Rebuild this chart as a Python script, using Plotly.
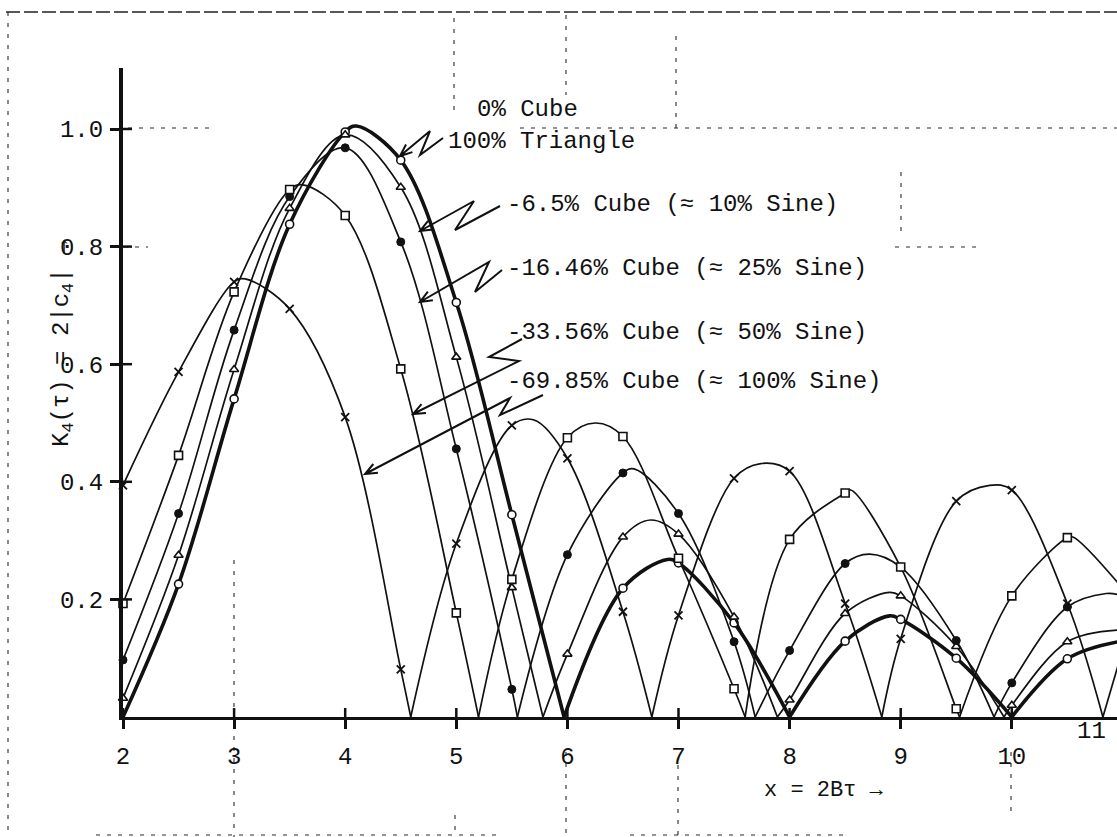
import math
import plotly.graph_objects as go

INK = "#111111"
FONT = "Liberation Mono"

# x = 2B*tau and k4 = 2|c4| for each waveform mix; a 0 value marks a null (cusp)
cube0_x = [2.0, 2.5, 3.0, 3.5, 4.0, 4.1, 4.5, 5.0, 5.5, 5.97, 6.5, 6.9, 7.0, 7.5, 8.0,
           8.5, 8.9, 9.0, 9.5, 10.0, 10.5, 10.96]
cube0_y = [0.0, 0.226, 0.541, 0.838, 0.995, 1.005, 0.947, 0.705, 0.344, 0.0, 0.219, 0.268,
           0.262, 0.16, 0.0, 0.129, 0.172, 0.166, 0.10, 0.0, 0.099, 0.128]

cube65_x = [2.0, 2.5, 3.0, 3.5, 4.0, 4.5, 5.0, 5.5, 5.78, 6.0, 6.5, 6.75, 7.0, 7.5, 7.89,
            8.0, 8.5, 8.9, 9.0, 9.5, 9.93, 10.0, 10.5, 10.96]
cube65_y = [0.032, 0.275, 0.591, 0.865, 0.99, 0.901, 0.612, 0.22, 0.0, 0.107, 0.306, 0.335,
            0.311, 0.17, 0.0, 0.029, 0.176, 0.212, 0.206, 0.12, 0.0, 0.02, 0.128, 0.148]

cube1646_x = [2.0, 2.5, 3.0, 3.5, 4.0, 4.5, 5.0, 5.5, 5.55, 6.0, 6.5, 6.6, 7.0, 7.5, 7.69,
              8.0, 8.5, 8.72, 9.0, 9.5, 9.84, 10.0, 10.5, 10.85, 10.96]
cube1646_y = [0.097, 0.346, 0.658, 0.885, 0.968, 0.808, 0.456, 0.047, 0.0, 0.276, 0.415,
              0.422, 0.346, 0.128, 0.0, 0.113, 0.261, 0.277, 0.255, 0.13, 0.0, 0.058, 0.187,
              0.21, 0.208]

cube3356_x = [2.0, 2.5, 3.0, 3.5, 3.62, 4.0, 4.5, 5.0, 5.2, 5.5, 6.0, 6.25, 6.5, 7.0, 7.5,
              7.6, 8.0, 8.5, 8.55, 9.0, 9.5, 9.53, 10.0, 10.5, 10.55, 10.96]
cube3356_y = [0.193, 0.445, 0.723, 0.897, 0.905, 0.853, 0.592, 0.177, 0.0, 0.234, 0.475,
              0.50, 0.477, 0.27, 0.048, 0.0, 0.302, 0.381, 0.386, 0.255, 0.014, 0.0, 0.206,
              0.305, 0.306, 0.227]

cube6985_x = [2.0, 2.5, 3.0, 3.1, 3.5, 4.0, 4.5, 4.59, 5.0, 5.5, 5.7, 6.0, 6.5, 6.76, 7.0,
              7.5, 7.74, 8.0, 8.5, 8.83, 9.0, 9.5, 9.8, 10.0, 10.5, 10.82, 10.96]
cube6985_y = [0.394, 0.587, 0.740, 0.745, 0.694, 0.510, 0.081, 0.0, 0.295, 0.496, 0.505,
              0.44, 0.179, 0.0, 0.173, 0.406, 0.431, 0.418, 0.193, 0.0, 0.133, 0.367, 0.394,
              0.386, 0.193, 0.0, 0.09]

x_ticks = [2, 3, 4, 5, 6, 7, 8, 9, 10]
x_tick_text = ["2", "3", "4", "5", "6", "7", "8", "9", "10"]
y_ticks = [0.2, 0.4, 0.6, 0.8, 1.0]
y_tick_text = ["0.2", "0.4", "0.6", "0.8", "1.0"]

labels = [
    "0% Cube",
    "100% Triangle",
    "-6.5% Cube (≈ 10% Sine)",
    "-16.46% Cube (≈ 25% Sine)",
    "-33.56% Cube (≈ 50% Sine)",
    "-69.85% Cube (≈ 100% Sine)",
]

# ---- page geometry (pixels) ----
W, H = 1117, 837
L_M, T_M, B_M = 123, 68, 120
PW, PH = W - L_M, H - T_M - B_M
X_UNIT = 111.1          # pixels per unit of x
Y_UNIT = 588.0          # pixels per unit of k4
X_MAX = 2 + PW / X_UNIT
Y_MAX = PH / Y_UNIT
AXIS_PY = H - B_M


def px(p):
    return (p - L_M) / PW


def py(p):
    return (AXIS_PY - p) / PH


def open_marker(symbol, size):
    return dict(symbol=symbol, size=size, color="white", line=dict(color=INK, width=1.6))


series = [
    dict(x=cube0_x, y=cube0_y, width=3.6, marker=open_marker("circle", 8)),
    dict(x=cube65_x, y=cube65_y, width=1.7, marker=open_marker("triangle-up", 8)),
    dict(x=cube1646_x, y=cube1646_y, width=1.7,
         marker=dict(symbol="circle", size=8, color=INK, line=dict(color=INK, width=1))),
    dict(x=cube3356_x, y=cube3356_y, width=1.7, marker=open_marker("square", 8)),
    dict(x=cube6985_x, y=cube6985_y, width=1.7,
         marker=dict(symbol="x-thin", size=8, color=INK, line=dict(color=INK, width=1.8))),
]


def split_lobes(xs, ys):
    """Split a curve at its nulls so every lobe keeps a sharp cusp at zero."""
    lobes, cur = [], []
    for x, y in zip(xs, ys):
        cur.append((x, y))
        if y == 0 and len(cur) > 1:
            lobes.append(cur)
            cur = [(x, y)]
    if len(cur) > 1:
        lobes.append(cur)
    return lobes


fig = go.Figure()

for s in series:
    for lobe in split_lobes(s["x"], s["y"]):
        fig.add_trace(go.Scatter(
            x=[p[0] for p in lobe], y=[p[1] for p in lobe], mode="lines",
            line=dict(color=INK, width=s["width"], shape="spline", smoothing=1.0),
            hoverinfo="skip", showlegend=False))
    # plotted points sit on the half-unit grid of x
    on_grid = [(x, y) for x, y in zip(s["x"], s["y"])
               if abs(x * 2 - round(x * 2)) < 1e-9 and y > 0]
    fig.add_trace(go.Scatter(x=[p[0] for p in on_grid], y=[p[1] for p in on_grid],
                             mode="markers", marker=s["marker"],
                             cliponaxis=False, showlegend=False, hoverinfo="skip"))

shapes = []
# cross ticks: the part inside the axes
for t in x_ticks:
    shapes.append(dict(type="line", xref="x", yref="y", x0=t, x1=t, y0=0, y1=9 / Y_UNIT,
                       line=dict(color=INK, width=2.5)))
for t in y_ticks:
    shapes.append(dict(type="line", xref="x", yref="y", x0=2, x1=2 + 9 / X_UNIT, y0=t, y1=t,
                       line=dict(color=INK, width=2.5)))

# faint guide dashes of the graph sheet
guide = dict(color="#2a2a2a", width=1.1, dash="4px,7px")


def gline(x0, y0, x1, y1, style=guide):
    shapes.append(dict(type="line", xref="paper", yref="paper", x0=px(x0), x1=px(x1),
                       y0=py(y0), y1=py(y1), line=style, layer="below"))


gline(6, 12, 1117, 12, dict(color="#222", width=1.6, dash="14px,4px"))
gline(8, 12, 8, 837)
gline(96, 835, 500, 835)
gline(630, 835, 850, 835)
gline(128, 128, 215, 128)
gline(520, 128, 1117, 128)
gline(124, 247, 148, 247)
gline(895, 247, 980, 247)
gline(234, 560, 234, 837)
gline(454, 18, 454, 112)
gline(566, 15, 566, 95)
gline(566, 752, 566, 837)
gline(676, 36, 676, 135)
gline(678, 765, 678, 837)
gline(901, 172, 901, 235)
gline(1011, 752, 1011, 815)
gline(455, 815, 455, 837)

# leader lines: label -> zigzag -> arrow tip on the curve, open V head at the tip
leaders = [
    [(443, 138), (420, 155), (430, 131), (400, 156)],
    [(500, 206), (455, 230), (474, 201), (420, 231)],
    [(502, 270), (475, 292), (489, 262), (420, 302)],
    [(522, 339), (489, 357), (519, 361), (413, 414)],
    [(543, 395), (500, 415), (510, 398), (365, 474)],
]


def head(tip, tail, length=12.0, half=5.0):
    dx, dy = tip[0] - tail[0], tip[1] - tail[1]
    n = math.hypot(dx, dy)
    ux, uy = dx / n, dy / n
    bx, by = tip[0] - ux * length, tip[1] - uy * length
    return (bx - uy * half, by + ux * half), (bx + uy * half, by - ux * half)


for pts in leaders:
    path = "M {} {}".format(px(pts[0][0]), py(pts[0][1]))
    for p in pts[1:]:
        path += " L {} {}".format(px(p[0]), py(p[1]))
    a, b = head(pts[3], pts[2])
    path += " M {} {} L {} {} L {} {}".format(px(a[0]), py(a[1]), px(pts[3][0]),
                                             py(pts[3][1]), px(b[0]), py(b[1]))
    shapes.append(dict(type="path", xref="paper", yref="paper", path=path,
                       line=dict(color=INK, width=2.0)))

annotations = []
label_pos = [(475, 110), (446, 141), (505, 204), (505, 268), (505, 333), (505, 382)]
for text, (lx, ly) in zip(labels, label_pos):
    annotations.append(dict(xref="paper", yref="paper", x=px(lx), y=py(ly), text=text,
                            showarrow=False, xanchor="left", yanchor="middle",
                            font=dict(family=FONT, size=24, color=INK)))

# axis titles
annotations.append(dict(xref="paper", yref="paper", x=px(46), y=py(343),
                        text="K<sub>4</sub>(τ) = 2|c<sub>4</sub>| →", textangle=-90,
                        showarrow=False, font=dict(family=FONT, size=24, color=INK)))
annotations.append(dict(xref="paper", yref="paper", x=px(886), y=py(776),
                        text="x = 2Bτ →", showarrow=False, yanchor="top",
                        font=dict(family=FONT, size=22, color=INK)))
# last x tick label, cut by the sheet edge
annotations.append(dict(xref="paper", yref="paper", x=px(1108), y=py(747), text="11",
                        showarrow=False, font=dict(family=FONT, size=24, color=INK)))

fig.update_layout(
    width=W, height=H,
    margin=dict(l=L_M, r=0, t=T_M, b=B_M, pad=0),
    paper_bgcolor="white", plot_bgcolor="white",
    showlegend=False,
    font=dict(family=FONT, color=INK),
    xaxis=dict(range=[2, X_MAX], tickvals=x_ticks, ticktext=x_tick_text,
               showline=True, linewidth=3, linecolor=INK, mirror=False,
               ticks="outside", ticklen=9, tickwidth=2.5, tickcolor=INK,
               tickfont=dict(family=FONT, size=24, color=INK),
               ticklabelstandoff=6, showgrid=False, zeroline=False, fixedrange=True),
    yaxis=dict(range=[0, Y_MAX], tickvals=y_ticks, ticktext=y_tick_text,
               showline=True, linewidth=4, linecolor=INK,
               ticks="outside", ticklen=9, tickwidth=2.5, tickcolor=INK,
               tickfont=dict(family=FONT, size=24, color=INK),
               ticklabelstandoff=2, showgrid=False, zeroline=False, fixedrange=True),
    shapes=shapes,
    annotations=annotations,
)

fig.write_html("out.html")
